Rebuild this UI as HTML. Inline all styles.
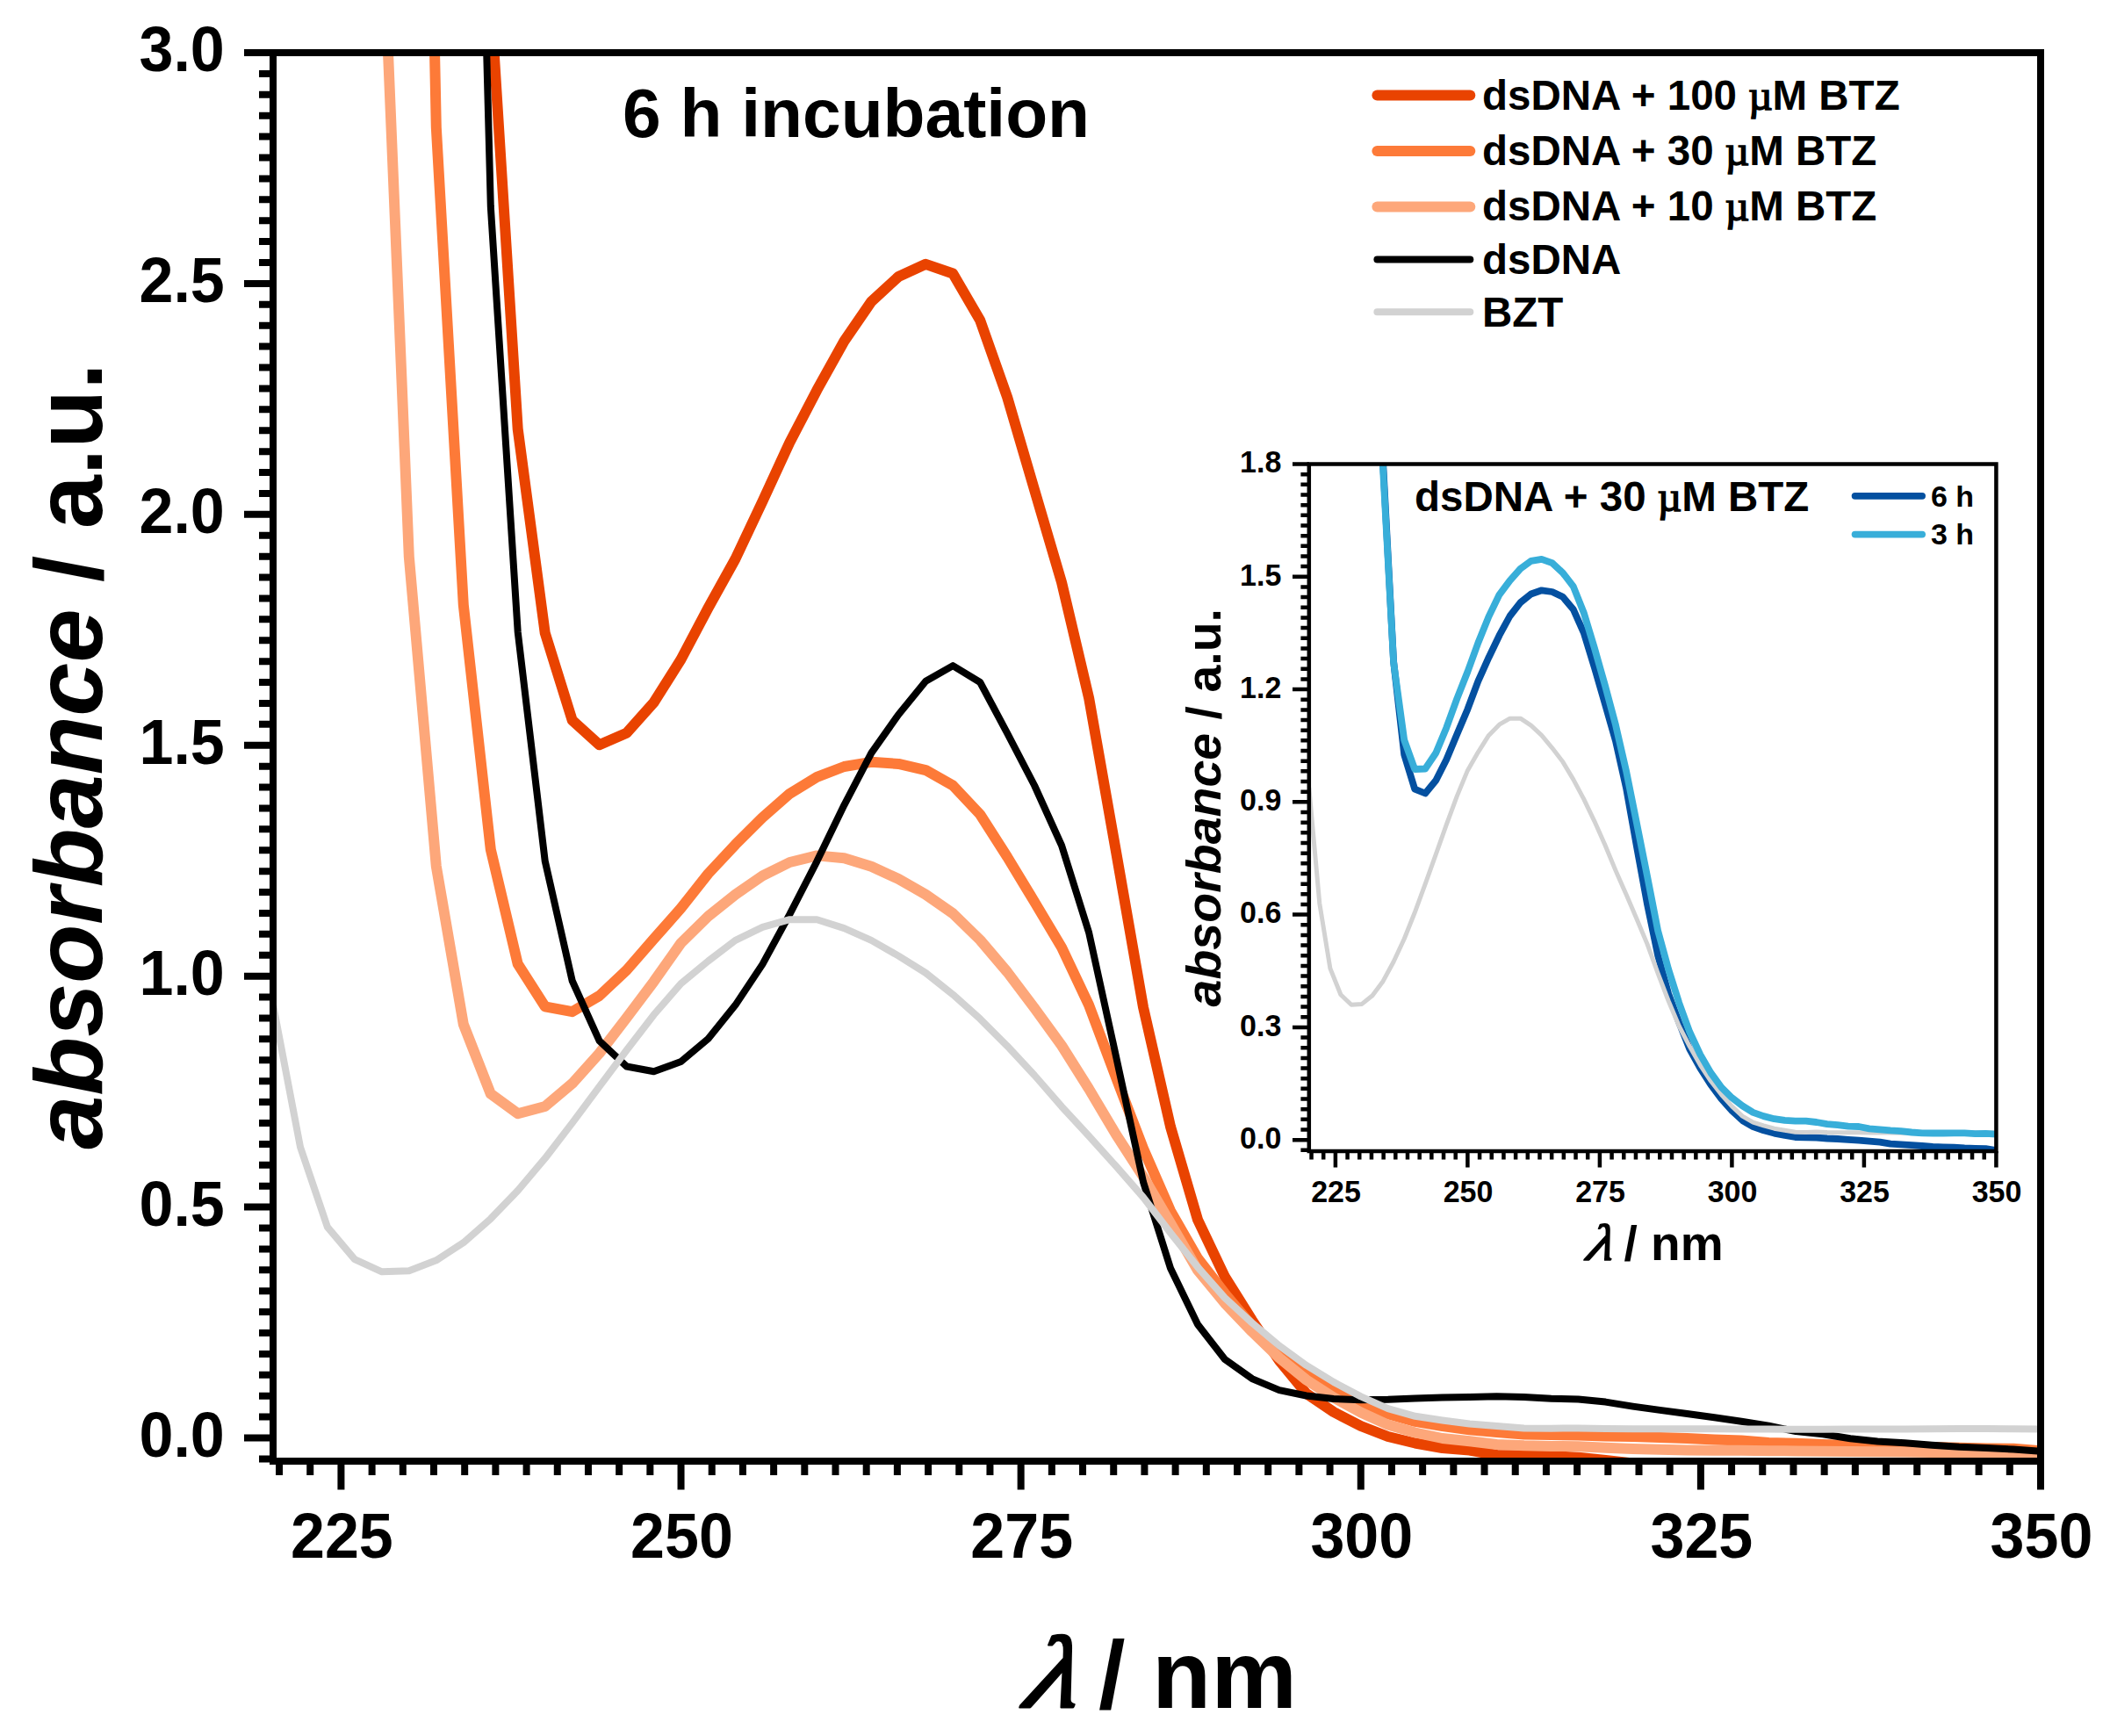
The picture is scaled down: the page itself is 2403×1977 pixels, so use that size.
<!DOCTYPE html>
<html lang="en"><head><meta charset="utf-8"><title>UV-Vis absorbance of dsDNA with BTZ</title>
<style>
html,body{margin:0;padding:0;background:#fff;overflow:hidden;}
svg{display:block;}
text{font-family:"Liberation Sans",Arial,Helvetica,sans-serif;font-weight:bold;fill:#000;}
.it{font-style:italic;}
.sym{font-family:"Liberation Serif","DejaVu Serif",serif;font-weight:normal;stroke:#000;stroke-width:1.5px;}
.lam{font-family:"Liberation Serif","DejaVu Serif",serif;font-style:normal;font-weight:normal;}
.crv{fill:none;stroke-linejoin:round;stroke-linecap:butt;}
.ax{stroke:#000;fill:none;}
</style></head><body>
<svg width="2403" height="1977" viewBox="0 0 2403 1977" role="img" aria-label="UV-Vis absorbance spectra">
<rect x="0" y="0" width="2403" height="1977" fill="#fff"/>
<defs>
<clipPath id="cm"><rect x="311.0" y="60.0" width="2013.0" height="1604.0"/></clipPath>
<clipPath id="ci"><rect x="1490.8" y="528.5" width="782.6" height="782.5"/></clipPath>
</defs>
<g clip-path="url(#cm)">
<polyline class="crv" stroke="#E94300" stroke-width="12" points="496.8,-3000.0 527.8,-990.0 558.8,-1.3 589.7,488.6 620.7,720.8 651.7,820.3 682.6,848.2 713.6,834.7 744.6,800.0 775.5,751.0 806.5,692.4 837.5,636.5 868.4,571.0 899.4,503.7 930.4,444.2 961.4,388.5 992.3,343.5 1023.3,315.0 1054.3,300.8 1085.2,311.5 1116.2,364.8 1147.2,452.5 1178.1,557.9 1209.1,663.4 1240.1,794.8 1271.0,969.8 1302.0,1147.0 1333.0,1283.0 1364.0,1389.0 1394.9,1454.0 1425.9,1503.5 1456.9,1549.5 1487.8,1587.0 1518.8,1608.0 1549.8,1624.0 1580.7,1636.0 1611.7,1643.5 1642.7,1649.0 1673.6,1651.5 1704.6,1657.0 1735.6,1657.6 1766.6,1658.1 1797.5,1659.7 1828.5,1663.0 1859.5,1666.5 1890.4,1670.0 1921.4,1672.0 1952.4,1673.0 1983.3,1674.0 2014.3,1675.0 2045.3,1675.0 2076.2,1675.0 2107.2,1675.0 2138.2,1675.0 2169.2,1675.0 2200.1,1675.0 2231.1,1675.0 2262.1,1675.0 2293.0,1675.0 2324.0,1675.0"/>
<polyline class="crv" stroke="#FD7A38" stroke-width="12" points="465.8,-1357.0 496.8,145.0 527.8,688.8 558.8,967.4 589.7,1097.8 620.7,1146.3 651.7,1152.2 682.6,1134.0 713.6,1104.9 744.6,1069.3 775.5,1034.3 806.5,995.0 837.5,961.8 868.4,931.0 899.4,903.8 930.4,884.8 961.4,873.0 992.3,867.8 1023.3,869.9 1054.3,877.1 1085.2,894.5 1116.2,927.5 1147.2,976.0 1178.1,1027.0 1209.1,1079.0 1240.1,1144.6 1271.0,1227.0 1302.0,1308.0 1333.0,1379.0 1364.0,1433.0 1394.9,1473.0 1425.9,1510.0 1456.9,1537.0 1487.8,1560.1 1518.8,1580.0 1549.8,1596.4 1580.7,1610.2 1611.7,1618.9 1642.7,1624.1 1673.6,1628.2 1704.6,1630.9 1735.6,1633.6 1766.6,1634.1 1797.5,1634.4 1828.5,1635.4 1859.5,1636.1 1890.4,1637.0 1921.4,1638.1 1952.4,1639.4 1983.3,1640.6 2014.3,1643.0 2045.3,1643.8 2076.2,1644.9 2107.2,1645.9 2138.2,1647.0 2169.2,1647.5 2200.1,1648.0 2231.1,1648.8 2262.1,1649.4 2293.0,1649.8 2324.0,1652.2"/>
<polyline class="crv" stroke="#FDA77A" stroke-width="12" points="403.9,-1500.0 434.9,-111.6 465.8,634.0 496.8,986.4 527.8,1166.5 558.8,1245.7 589.7,1268.2 620.7,1260.0 651.7,1233.9 682.6,1199.5 713.6,1159.2 744.6,1117.8 775.5,1074.0 806.5,1043.5 837.5,1018.7 868.4,997.4 899.4,982.0 930.4,974.4 961.4,977.3 992.3,986.7 1023.3,1001.0 1054.3,1018.7 1085.2,1040.2 1116.2,1070.5 1147.2,1107.0 1178.1,1148.0 1209.1,1190.7 1240.1,1240.0 1271.0,1292.0 1302.0,1340.0 1333.0,1393.0 1364.0,1446.5 1394.9,1484.0 1425.9,1516.5 1456.9,1546.3 1487.8,1571.5 1518.8,1591.5 1549.8,1608.5 1580.7,1622.6 1611.7,1631.5 1642.7,1638.0 1673.6,1641.2 1704.6,1645.0 1735.6,1646.3 1766.6,1646.9 1797.5,1647.2 1828.5,1648.8 1859.5,1649.9 1890.4,1650.7 1921.4,1651.5 1952.4,1651.8 1983.3,1651.8 2014.3,1652.2 2045.3,1652.4 2076.2,1652.7 2107.2,1653.0 2138.2,1653.3 2169.2,1653.5 2200.1,1654.0 2231.1,1654.3 2262.1,1654.6 2293.0,1654.8 2324.0,1655.0"/>
<polyline class="crv" stroke="#000" stroke-width="8" points="496.8,-3000.0 527.8,-943.0 558.8,235.0 589.7,719.6 620.7,980.5 651.7,1117.0 682.6,1185.4 713.6,1214.5 744.6,1220.3 775.5,1209.0 806.5,1183.0 837.5,1144.6 868.4,1098.1 899.4,1041.2 930.4,980.8 961.4,916.8 992.3,857.6 1023.3,813.7 1054.3,775.8 1085.2,758.1 1116.2,777.0 1147.2,835.1 1178.1,894.5 1209.1,963.0 1240.1,1062.0 1271.0,1203.0 1302.0,1346.0 1333.0,1444.2 1364.0,1508.3 1394.9,1548.0 1425.9,1570.1 1456.9,1583.1 1487.8,1589.5 1518.8,1593.0 1549.8,1594.2 1580.7,1593.8 1611.7,1592.6 1642.7,1591.6 1673.6,1590.9 1704.6,1590.3 1735.6,1590.9 1766.6,1592.7 1797.5,1593.4 1828.5,1596.6 1859.5,1601.6 1890.4,1605.9 1921.4,1610.0 1952.4,1614.3 1983.3,1618.8 2014.3,1623.6 2045.3,1630.1 2076.2,1633.3 2107.2,1638.2 2138.2,1641.4 2169.2,1643.3 2200.1,1645.7 2231.1,1647.8 2262.1,1648.9 2293.0,1650.6 2324.0,1652.7"/>
<polyline class="crv" stroke="#D2D2D2" stroke-width="8" points="311.0,1144.0 342.0,1306.2 372.9,1397.4 403.9,1434.1 434.9,1448.3 465.8,1447.2 496.8,1435.3 527.8,1415.2 558.8,1387.9 589.7,1355.9 620.7,1319.2 651.7,1278.9 682.6,1237.4 713.6,1196.0 744.6,1155.7 775.5,1120.1 806.5,1094.5 837.5,1070.9 868.4,1055.9 899.4,1047.2 930.4,1047.2 961.4,1057.1 992.3,1070.9 1023.3,1088.6 1054.3,1108.0 1085.2,1132.6 1116.2,1160.3 1147.2,1191.3 1178.1,1224.5 1209.1,1260.2 1240.1,1293.7 1271.0,1328.0 1302.0,1363.5 1333.0,1404.0 1364.0,1443.0 1394.9,1478.0 1425.9,1506.5 1456.9,1532.5 1487.8,1554.9 1518.8,1573.9 1549.8,1590.4 1580.7,1604.2 1611.7,1612.8 1642.7,1617.5 1673.6,1621.5 1704.6,1624.1 1735.6,1626.5 1766.6,1626.7 1797.5,1626.4 1828.5,1626.9 1859.5,1627.2 1890.4,1627.2 1921.4,1627.2 1952.4,1627.3 1983.3,1627.4 2014.3,1627.6 2045.3,1627.7 2076.2,1627.7 2107.2,1627.6 2138.2,1627.5 2169.2,1627.4 2200.1,1627.2 2231.1,1626.9 2262.1,1627.1 2293.0,1627.3 2324.0,1627.4"/>
</g>
<g class="ax" stroke-width="8.0">
<rect x="311.0" y="60.0" width="2013.0" height="1604.0"/>
<path d="M295 1661.40H311.0M278 1637.50H311.0M295 1613.60H311.0M295 1589.70H311.0M295 1565.80H311.0M295 1541.89H311.0M295 1517.99H311.0M295 1494.09H311.0M295 1470.19H311.0M295 1446.29H311.0M295 1422.39H311.0M295 1398.48H311.0M278 1374.58H311.0M295 1350.68H311.0M295 1326.78H311.0M295 1302.88H311.0M295 1278.98H311.0M295 1255.08H311.0M295 1231.17H311.0M295 1207.27H311.0M295 1183.37H311.0M295 1159.47H311.0M295 1135.57H311.0M278 1111.67H311.0M295 1087.77H311.0M295 1063.86H311.0M295 1039.96H311.0M295 1016.06H311.0M295 992.16H311.0M295 968.26H311.0M295 944.36H311.0M295 920.45H311.0M295 896.55H311.0M295 872.65H311.0M278 848.75H311.0M295 824.85H311.0M295 800.95H311.0M295 777.05H311.0M295 753.14H311.0M295 729.24H311.0M295 705.34H311.0M295 681.44H311.0M295 657.54H311.0M295 633.64H311.0M295 609.73H311.0M278 585.83H311.0M295 561.93H311.0M295 538.03H311.0M295 514.13H311.0M295 490.23H311.0M295 466.33H311.0M295 442.42H311.0M295 418.52H311.0M295 394.62H311.0M295 370.72H311.0M295 346.82H311.0M278 322.92H311.0M295 299.02H311.0M295 275.11H311.0M295 251.21H311.0M295 227.31H311.0M295 203.41H311.0M295 179.51H311.0M295 155.61H311.0M295 131.70H311.0M295 107.80H311.0M295 83.90H311.0M278 60.00H311.0M353.23 1664.0V1680M318.04 1664.0V1680M388.42 1664.0V1696.5M423.62 1664.0V1680M458.81 1664.0V1680M494.00 1664.0V1680M529.19 1664.0V1680M564.38 1664.0V1680M599.58 1664.0V1680M634.77 1664.0V1680M669.96 1664.0V1680M705.15 1664.0V1680M740.35 1664.0V1680M775.54 1664.0V1696.5M810.73 1664.0V1680M845.92 1664.0V1680M881.12 1664.0V1680M916.31 1664.0V1680M951.50 1664.0V1680M986.69 1664.0V1680M1021.88 1664.0V1680M1057.08 1664.0V1680M1092.27 1664.0V1680M1127.46 1664.0V1680M1162.65 1664.0V1696.5M1197.85 1664.0V1680M1233.04 1664.0V1680M1268.23 1664.0V1680M1303.42 1664.0V1680M1338.62 1664.0V1680M1373.81 1664.0V1680M1409.00 1664.0V1680M1444.19 1664.0V1680M1479.38 1664.0V1680M1514.58 1664.0V1680M1549.77 1664.0V1696.5M1584.96 1664.0V1680M1620.15 1664.0V1680M1655.35 1664.0V1680M1690.54 1664.0V1680M1725.73 1664.0V1680M1760.92 1664.0V1680M1796.12 1664.0V1680M1831.31 1664.0V1680M1866.50 1664.0V1680M1901.69 1664.0V1680M1936.88 1664.0V1696.5M1972.08 1664.0V1680M2007.27 1664.0V1680M2042.46 1664.0V1680M2077.65 1664.0V1680M2112.85 1664.0V1680M2148.04 1664.0V1680M2183.23 1664.0V1680M2218.42 1664.0V1680M2253.62 1664.0V1680M2288.81 1664.0V1680M2324.00 1664.0V1696.5"/>
</g>
<g font-size="70" text-anchor="end">
<text transform="translate(255.8 1658.5) scale(1 1.045)">0.0</text>
<text transform="translate(255.8 1395.6) scale(1 1.045)">0.5</text>
<text transform="translate(255.8 1132.7) scale(1 1.045)">1.0</text>
<text transform="translate(255.8 869.8) scale(1 1.045)">1.5</text>
<text transform="translate(255.8 606.8) scale(1 1.045)">2.0</text>
<text transform="translate(255.8 343.9) scale(1 1.045)">2.5</text>
<text transform="translate(255.8 81.0) scale(1 1.045)">3.0</text>
</g>
<g font-size="70" text-anchor="middle">
<text transform="translate(389.4 1774) scale(1 1.045)">225</text>
<text transform="translate(776.5 1774) scale(1 1.045)">250</text>
<text transform="translate(1163.7 1774) scale(1 1.045)">275</text>
<text transform="translate(1550.8 1774) scale(1 1.045)">300</text>
<text transform="translate(1937.9 1774) scale(1 1.045)">325</text>
<text transform="translate(2325.0 1774) scale(1 1.045)">350</text>
</g>
<text font-size="109.6" text-anchor="middle" transform="translate(116 861) rotate(-90)"><tspan class="it">absorbance</tspan> / a.u.</text>
<text class="lam" font-size="116" stroke="#000" stroke-width="3" stroke-linejoin="round" transform="translate(1158.5 1944) skewX(-22) scale(1.14 1)">λ</text>
<text font-size="110" x="1251" y="1945">/ nm</text>
<text font-size="78.5" x="709" y="156">6 h incubation</text>
<line x1="1568.4" y1="108.5" x2="1674.3" y2="108.5" stroke="#E94300" stroke-width="12.0" stroke-linecap="round"/>
<text font-size="47.5" x="1688" y="124.9">dsDNA + 100 <tspan class="sym">µ</tspan>M BTZ</text>
<line x1="1568.4" y1="172.0" x2="1674.3" y2="172.0" stroke="#FD7A38" stroke-width="12.0" stroke-linecap="round"/>
<text font-size="47.5" x="1688" y="187.9">dsDNA + 30 <tspan class="sym">µ</tspan>M BTZ</text>
<line x1="1568.4" y1="235.5" x2="1674.3" y2="235.5" stroke="#FDA77A" stroke-width="12.0" stroke-linecap="round"/>
<text font-size="47.5" x="1688" y="250.9">dsDNA + 10 <tspan class="sym">µ</tspan>M BTZ</text>
<line x1="1568.4" y1="295.5" x2="1674.3" y2="295.5" stroke="#000" stroke-width="8.0" stroke-linecap="round"/>
<text font-size="47.5" x="1688" y="311.9">dsDNA</text>
<line x1="1568.4" y1="355.3" x2="1674.3" y2="355.3" stroke="#D2D2D2" stroke-width="8.0" stroke-linecap="round"/>
<text font-size="47.5" x="1688" y="372.0">BZT</text>
<g clip-path="url(#ci)">
<polyline class="crv" stroke="#0450A0" stroke-width="7.8" points="1551.0,-1136.9 1563.0,84.5 1575.1,526.7 1587.1,753.3 1599.2,859.3 1611.2,898.7 1623.2,903.5 1635.3,888.7 1647.3,865.1 1659.4,836.1 1671.4,807.7 1683.4,775.7 1695.5,748.7 1707.5,723.7 1719.6,701.5 1731.6,686.1 1743.6,676.5 1755.7,672.3 1767.7,674.0 1779.8,679.8 1791.8,694.0 1803.8,720.8 1815.9,760.3 1827.9,801.7 1840.0,844.0 1852.0,897.4 1864.0,964.4 1876.1,1030.2 1888.1,1088.0 1900.2,1131.9 1912.2,1164.4 1924.2,1194.5 1936.3,1216.4 1948.3,1235.2 1960.4,1251.4 1972.4,1264.8 1984.4,1276.0 1996.5,1283.0 2008.5,1287.3 2020.6,1290.6 2032.6,1292.8 2044.6,1295.0 2056.7,1295.4 2068.7,1295.7 2080.8,1296.5 2092.8,1297.0 2104.8,1297.8 2116.9,1298.7 2128.9,1299.7 2141.0,1300.7 2153.0,1302.6 2165.0,1303.3 2177.1,1304.2 2189.1,1305.0 2201.2,1305.9 2213.2,1306.3 2225.2,1306.7 2237.3,1307.4 2249.3,1307.8 2261.4,1308.2 2273.4,1310.1"/>
<polyline class="crv" stroke="#D2D2D2" stroke-width="5" points="1490.8,896.9 1502.8,1028.8 1514.9,1102.9 1526.9,1132.8 1539.0,1144.3 1551.0,1143.4 1563.0,1133.7 1575.1,1117.4 1587.1,1095.2 1599.2,1069.2 1611.2,1039.3 1623.2,1006.6 1635.3,972.8 1647.3,939.2 1659.4,906.4 1671.4,877.4 1683.4,856.6 1695.5,837.4 1707.5,825.2 1719.6,818.2 1731.6,818.2 1743.6,826.2 1755.7,837.4 1767.7,851.8 1779.8,867.6 1791.8,887.6 1803.8,910.1 1815.9,935.3 1827.9,962.3 1840.0,991.4 1852.0,1018.6 1864.0,1046.5 1876.1,1075.4 1888.1,1108.3 1900.2,1140.0 1912.2,1168.5 1924.2,1191.6 1936.3,1212.8 1948.3,1231.0 1960.4,1246.5 1972.4,1259.9 1984.4,1271.1 1996.5,1278.1 2008.5,1281.9 2020.6,1285.2 2032.6,1287.3 2044.6,1289.2 2056.7,1289.4 2068.7,1289.1 2080.8,1289.6 2092.8,1289.8 2104.8,1289.8 2116.9,1289.8 2128.9,1289.9 2141.0,1290.0 2153.0,1290.1 2165.0,1290.2 2177.1,1290.2 2189.1,1290.1 2201.2,1290.0 2213.2,1290.0 2225.2,1289.8 2237.3,1289.6 2249.3,1289.7 2261.4,1289.9 2273.4,1290.0"/>
<polyline class="crv" stroke="#38AED9" stroke-width="7.8" points="1563.0,122.3 1575.1,534.5 1587.1,754.3 1599.2,842.6 1611.2,876.0 1623.2,875.5 1635.3,857.5 1647.3,828.7 1659.4,795.4 1671.4,765.0 1683.4,732.0 1695.5,702.1 1707.5,677.3 1719.6,661.1 1731.6,647.6 1743.6,638.9 1755.7,636.9 1767.7,641.2 1779.8,652.3 1791.8,667.9 1803.8,698.0 1815.9,738.0 1827.9,780.4 1840.0,825.6 1852.0,877.8 1864.0,937.5 1876.1,998.2 1888.1,1059.8 1900.2,1104.0 1912.2,1142.0 1924.2,1175.0 1936.3,1200.9 1948.3,1221.6 1960.4,1238.3 1972.4,1250.2 1984.4,1259.4 1996.5,1266.9 2008.5,1271.1 2020.6,1274.2 2032.6,1275.9 2044.6,1276.7 2056.7,1276.7 2068.7,1278.0 2080.8,1280.1 2092.8,1281.1 2104.8,1282.6 2116.9,1283.0 2128.9,1285.3 2141.0,1286.3 2153.0,1287.4 2165.0,1288.2 2177.1,1289.5 2189.1,1290.3 2201.2,1290.5 2213.2,1290.5 2225.2,1290.4 2237.3,1290.4 2249.3,1291.1 2261.4,1290.8 2273.4,1291.6"/>
</g>
<g class="ax" stroke-width="4.50">
<rect x="1490.8" y="528.5" width="782.6" height="782.5"/>
<path d="M1481.4 1309.83H1490.8M1472 1298.17H1490.8M1481.4 1286.51H1490.8M1481.4 1274.85H1490.8M1481.4 1263.19H1490.8M1481.4 1251.53H1490.8M1481.4 1239.86H1490.8M1481.4 1228.20H1490.8M1481.4 1216.54H1490.8M1481.4 1204.88H1490.8M1481.4 1193.22H1490.8M1481.4 1181.56H1490.8M1472 1169.89H1490.8M1481.4 1158.23H1490.8M1481.4 1146.57H1490.8M1481.4 1134.91H1490.8M1481.4 1123.25H1490.8M1481.4 1111.58H1490.8M1481.4 1099.92H1490.8M1481.4 1088.26H1490.8M1481.4 1076.60H1490.8M1481.4 1064.94H1490.8M1481.4 1053.28H1490.8M1472 1041.61H1490.8M1481.4 1029.95H1490.8M1481.4 1018.29H1490.8M1481.4 1006.63H1490.8M1481.4 994.97H1490.8M1481.4 983.31H1490.8M1481.4 971.64H1490.8M1481.4 959.98H1490.8M1481.4 948.32H1490.8M1481.4 936.66H1490.8M1481.4 925.00H1490.8M1472 913.34H1490.8M1481.4 901.67H1490.8M1481.4 890.01H1490.8M1481.4 878.35H1490.8M1481.4 866.69H1490.8M1481.4 855.03H1490.8M1481.4 843.37H1490.8M1481.4 831.70H1490.8M1481.4 820.04H1490.8M1481.4 808.38H1490.8M1481.4 796.72H1490.8M1472 785.06H1490.8M1481.4 773.40H1490.8M1481.4 761.73H1490.8M1481.4 750.07H1490.8M1481.4 738.41H1490.8M1481.4 726.75H1490.8M1481.4 715.09H1490.8M1481.4 703.43H1490.8M1481.4 691.76H1490.8M1481.4 680.10H1490.8M1481.4 668.44H1490.8M1472 656.78H1490.8M1481.4 645.12H1490.8M1481.4 633.46H1490.8M1481.4 621.79H1490.8M1481.4 610.13H1490.8M1481.4 598.47H1490.8M1481.4 586.81H1490.8M1481.4 575.15H1490.8M1481.4 563.49H1490.8M1481.4 551.82H1490.8M1481.4 540.16H1490.8M1472 528.50H1490.8M1507.22 1311.0V1320.5M1493.54 1311.0V1320.5M1520.90 1311.0V1329.5M1534.58 1311.0V1320.5M1548.26 1311.0V1320.5M1561.95 1311.0V1320.5M1575.63 1311.0V1320.5M1589.31 1311.0V1320.5M1602.99 1311.0V1320.5M1616.67 1311.0V1320.5M1630.35 1311.0V1320.5M1644.04 1311.0V1320.5M1657.72 1311.0V1320.5M1671.40 1311.0V1329.5M1685.08 1311.0V1320.5M1698.76 1311.0V1320.5M1712.45 1311.0V1320.5M1726.13 1311.0V1320.5M1739.81 1311.0V1320.5M1753.49 1311.0V1320.5M1767.17 1311.0V1320.5M1780.85 1311.0V1320.5M1794.54 1311.0V1320.5M1808.22 1311.0V1320.5M1821.90 1311.0V1329.5M1835.58 1311.0V1320.5M1849.26 1311.0V1320.5M1862.95 1311.0V1320.5M1876.63 1311.0V1320.5M1890.31 1311.0V1320.5M1903.99 1311.0V1320.5M1917.67 1311.0V1320.5M1931.35 1311.0V1320.5M1945.04 1311.0V1320.5M1958.72 1311.0V1320.5M1972.40 1311.0V1329.5M1986.08 1311.0V1320.5M1999.76 1311.0V1320.5M2013.45 1311.0V1320.5M2027.13 1311.0V1320.5M2040.81 1311.0V1320.5M2054.49 1311.0V1320.5M2068.17 1311.0V1320.5M2081.85 1311.0V1320.5M2095.54 1311.0V1320.5M2109.22 1311.0V1320.5M2122.90 1311.0V1329.5M2136.58 1311.0V1320.5M2150.26 1311.0V1320.5M2163.95 1311.0V1320.5M2177.63 1311.0V1320.5M2191.31 1311.0V1320.5M2204.99 1311.0V1320.5M2218.67 1311.0V1320.5M2232.35 1311.0V1320.5M2246.04 1311.0V1320.5M2259.72 1311.0V1320.5M2273.40 1311.0V1329.5"/>
</g>
<g font-size="34" text-anchor="end">
<text transform="translate(1459.3 1308.0) scale(1 1.045)">0.0</text>
<text transform="translate(1459.3 1179.7) scale(1 1.045)">0.3</text>
<text transform="translate(1459.3 1051.4) scale(1 1.045)">0.6</text>
<text transform="translate(1459.3 923.1) scale(1 1.045)">0.9</text>
<text transform="translate(1459.3 794.9) scale(1 1.045)">1.2</text>
<text transform="translate(1459.3 666.6) scale(1 1.045)">1.5</text>
<text transform="translate(1459.3 538.3) scale(1 1.045)">1.8</text>
</g>
<g font-size="34" text-anchor="middle">
<text transform="translate(1521.5 1369) scale(1 1.045)">225</text>
<text transform="translate(1672.0 1369) scale(1 1.045)">250</text>
<text transform="translate(1822.5 1369) scale(1 1.045)">275</text>
<text transform="translate(1973.0 1369) scale(1 1.045)">300</text>
<text transform="translate(2123.5 1369) scale(1 1.045)">325</text>
<text transform="translate(2274.0 1369) scale(1 1.045)">350</text>
</g>
<text font-size="55.5" text-anchor="middle" transform="translate(1390 919.7) rotate(-90)"><tspan class="it">absorbance</tspan> / a.u.</text>
<text class="lam" font-size="58.5" stroke="#000" stroke-width="1.5" stroke-linejoin="round" transform="translate(1802.3 1434.5) skewX(-22) scale(1.14 1)">λ</text>
<text font-size="55" x="1849.5" y="1435">/ nm</text>
<text font-size="47.5" x="1611" y="582.4">dsDNA + 30 <tspan class="sym">µ</tspan>M BTZ</text>
<line x1="2112.6" y1="564.8" x2="2189.1" y2="564.8" stroke="#0450A0" stroke-width="7.8" stroke-linecap="round"/>
<text font-size="34" x="2199" y="577.4">6 h</text>
<line x1="2112.6" y1="608.6" x2="2189.1" y2="608.6" stroke="#38AED9" stroke-width="7.8" stroke-linecap="round"/>
<text font-size="34" x="2199" y="620.2">3 h</text>
</svg>
</body></html>
